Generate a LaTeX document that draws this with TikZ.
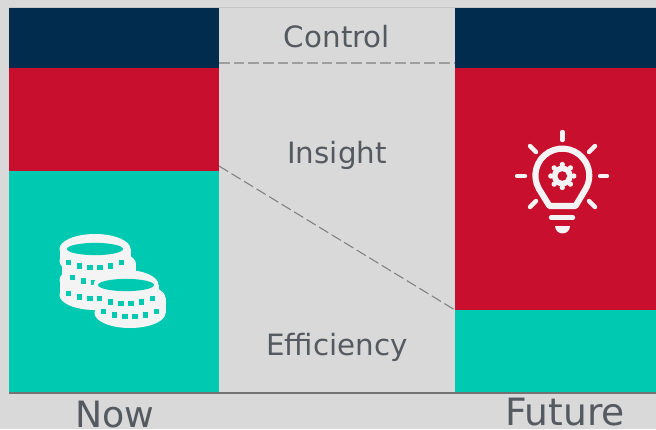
\documentclass[tikz,border=0pt]{standalone}
\usepackage{fontspec}
\setmainfont{DejaVu Sans}
\definecolor{bgc}{HTML}{D9D9D9}
\definecolor{navyc}{HTML}{012C4E}
\definecolor{redc}{HTML}{C8102E}
\definecolor{tealc}{HTML}{00C9B1}
\definecolor{txtc}{HTML}{555A60}
\definecolor{iconc}{HTML}{F4F4F4}
\newcommand{\coinbody}[5]{% cx cy rx ry h
  \fill[iconc] (#1,#2) ellipse [x radius=#3*0.75pt,y radius=#4*0.75pt];
  \fill[iconc] (#1,#2+#5) ellipse [x radius=#3*0.75pt,y radius=#4*0.75pt];
  \fill[iconc] (#1-#3,#2) rectangle (#1+#3,#2+#5);
}
\newcommand{\cointicks}[2]{% cx cy
  \foreach \dx/\dy in {-26.5/13.5,-15.7/16.8,-5/18.3,5/18.3,15.7/16.8,26.5/13.5}
    \fill[tealc] (#1+\dx-2.7,#2+\dy-2.7) rectangle (#1+\dx+2.7,#2+\dy+2.7);
}
\begin{document}
\begin{tikzpicture}[x=0.75pt,y=-0.75pt,
  block/.style={inner sep=0pt,outer sep=0pt,anchor=north west,minimum width=#1*0.75pt},
  label/.style={text=txtc,font=\fontsize{22pt}{26pt}\selectfont,anchor=base},
  biglabel/.style={text=txtc,anchor=base,inner sep=0pt},
  divider/.style={dash pattern=on 8pt off 3pt},
  ray/.style={draw=iconc,line width=3.3pt,line cap=round}]
\useasboundingbox (0,0) rectangle (656,429);
\fill[bgc] (0,0) rectangle (656,429);
\draw[black!22,line width=0.8pt] (9,7.5) -- (656,7.5);
% left column
\node[block=210,fill=navyc,minimum height=60*0.75pt] (ln) at (9,8) {};
\node[block=210,fill=redc,minimum height=103*0.75pt] (lr) at (9,68) {};
\node[block=210,fill=tealc,minimum height=222*0.75pt] (lt) at (9,171) {};
% right column
\node[block=201,fill=navyc,minimum height=60*0.75pt] (rn) at (455,8) {};
\node[block=201,fill=redc,minimum height=242*0.75pt] (rr) at (455,68) {};
\node[block=201,fill=tealc,minimum height=82*0.75pt] (rt) at (455,310) {};
% axis
\coordinate (axl) at (9,393);
\coordinate (axr) at (656,393);
\draw[black!55,line width=1.1pt] (axl) -- (axr);
% dividers
\coordinate (d1a) at (219,63);
\coordinate (d1b) at (455,63);
\coordinate (d2a) at (219,166);
\coordinate (d2b) at (455,310);
\draw[divider,draw=black!38,line width=1.05pt] (d1a) -- (d1b);
\draw[divider,draw=black!50,line width=0.8pt] (d2a) -- (d2b);
% labels
\node[label] (control) at (337,47) {Control};
\node[label] (insight) at (337,163) {Insight};
\node[label] (efficiency) at (337,355) {Efficiency};
\node[biglabel,font=\fontsize{27.2pt}{32pt}\selectfont] (now) at (114.5,427) {Now};
\node[biglabel,font=\fontsize{28.2pt}{32pt}\selectfont] (future) at (565,425) {Future};
% coins
\coinbody{95}{280}{35.5}{15}{15}
\cointicks{95}{280}
\coinbody{99}{264}{37}{15}{12}
\cointicks{99}{264}
\coinbody{95}{249}{35.5}{15}{12}
\fill[tealc] (95,249) ellipse [x radius=21pt,y radius=4.6pt];
\cointicks{95}{249}
\coinbody{130}{298}{35.5}{15}{15}
\cointicks{130}{298}
\coinbody{126}{285}{32.5}{15}{12}
\fill[tealc] (126,285) ellipse [x radius=21pt,y radius=4.6pt];
\cointicks{126}{285}
% bulb
\draw[iconc,line width=4.6pt,line join=round,fill=none]
  (539,189) arc [start angle=210,delta angle=-240,radius=20.2pt]
  -- (575.5,206) -- (549.5,206) -- cycle;
\draw[ray] (551,217.5) -- (573,217.5);
\fill[iconc] (555,226) -- (570,226) arc [start angle=0,delta angle=-180,radius=5.6pt] -- cycle;
\draw[ray] (562.3,132) -- (562.3,140);
\draw[ray] (530,146) -- (536,152);
\draw[ray] (595,146) -- (589,152);
\draw[ray] (517,176) -- (525,176);
\draw[ray] (600,176) -- (607,176);
\draw[ray] (530,207) -- (536,201);
\draw[ray] (595,207) -- (589,201);
\foreach \a in {0,45,...,315}
  \fill[iconc] (562.3,176) ++(\a:8.6pt) circle [radius=2pt];
\fill[iconc] (562.3,176) circle [radius=7.8pt];
\fill[redc] (562.3,176) circle [radius=3.6pt];
\end{tikzpicture}
\end{document}
